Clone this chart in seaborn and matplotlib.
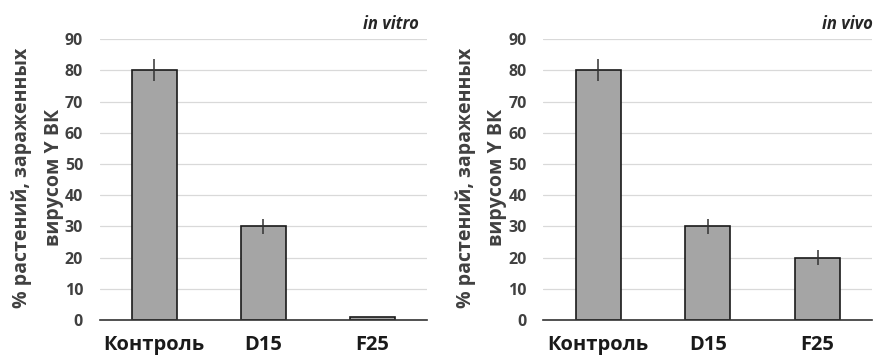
import matplotlib
matplotlib.use("Agg")
import matplotlib.pyplot as plt
import seaborn as sns
import pandas as pd

categories = ["Контроль", "D15", "F25"]
vitro_values = [80, 30, 1]
vitro_errors = [3.5, 2.5, 0]
vivo_values = [80, 30, 20]
vivo_errors = [3.5, 2.5, 2.5]
panel_titles = ["in vitro", "in vivo"]
ylabel_lines = ["% растений, зараженных", "вирусом Y ВК"]
yticks = [0, 10, 20, 30, 40, 50, 60, 70, 80, 90]

sns.set_theme(style="white")
plt.rcParams['font.family'] = ['Open Sans', 'DejaVu Sans']

fig = plt.figure(figsize=(8.75, 3.62), dpi=100)
ax1 = fig.add_axes([0.114, 0.116, 0.374, 0.776])
ax2 = fig.add_axes([0.621, 0.116, 0.376, 0.776])

for ax, vals, errs, title, tx in [(ax1, vitro_values, vitro_errors, panel_titles[0], 0.975),
                                  (ax2, vivo_values, vivo_errors, panel_titles[1], 1.0)]:
    df = pd.DataFrame({"cat": categories, "val": vals})
    sns.barplot(data=df, x="cat", y="val", ax=ax, color="#a5a5a5", width=0.41,
                edgecolor="#1a1a1a", linewidth=1.2, errorbar=None, saturation=1, zorder=3)
    xs = [p.get_x() + p.get_width() / 2 for p in ax.patches]
    ax.errorbar(xs, vals, yerr=errs, fmt="none", ecolor="#333333", elinewidth=1.1,
                capsize=0, zorder=4)
    ax.set_ylim(0, 90)
    ax.set_xlim(-0.5, 2.5)
    ax.set_yticks(yticks)
    ax.yaxis.grid(True, color="#d9d9d9", linewidth=0.9, zorder=0)
    ax.set_axisbelow(True)
    for s in ["left", "right", "top"]:
        ax.spines[s].set_visible(False)
    ax.spines["bottom"].set_color("#333333")
    ax.spines["bottom"].set_linewidth(1.2)
    ax.spines["bottom"].set_zorder(5)
    ax.tick_params(axis="y", length=0, pad=12, labelsize=11.5, labelcolor="#404040")
    ax.tick_params(axis="x", length=0, pad=11, labelsize=14.5, labelcolor="#1a1a1a")
    for t in ax.get_yticklabels():
        t.set_fontweight("bold")
    for t in ax.get_xticklabels():
        t.set_fontweight("bold")
    ax.set_xlabel("")
    ax.set_ylabel("")
    for line, lx in zip(ylabel_lines, [-0.237, -0.141]):
        ax.text(lx, 0.507, line, transform=ax.transAxes, rotation=90,
                ha="center", va="center",
                fontsize=14, fontweight="bold", color="#404040")
    ax.text(tx, 1.02, title, transform=ax.transAxes, ha="right", va="bottom",
            fontsize=12, fontweight="bold", fontstyle="italic", color="#262626")

fig.savefig("out.png", dpi=100)
